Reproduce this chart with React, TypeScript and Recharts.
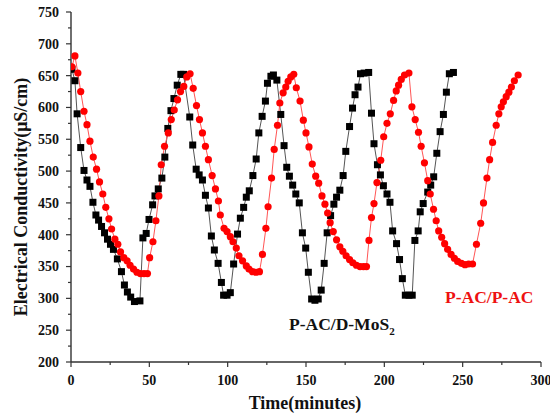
import React from 'react';
import { ComposedChart, Line, XAxis, YAxis } from 'recharts';

// P-AC/D-MoS2 (black squares)
const mosTime = [
  0.6, 2.5, 3.9, 6.2, 8.3, 10.2, 12.1, 14.0, 15.9, 17.6, 19.5, 21.4, 23.3, 25.2, 27.1, 29.6, 32.2, 34.1, 36.0, 38.1, 40.5, 44.0,
  45.9, 48.0, 49.8, 52.1, 53.6, 55.7, 58.0, 59.9, 61.8, 63.8, 65.7, 67.8, 70.1, 71.8,
  75.8, 77.7, 79.9, 81.8, 83.9, 85.8, 87.7, 89.6, 91.5, 93.9, 96.0, 97.4, 99.6, 101.7,
  103.8, 106.3, 108.1, 110.2, 111.9, 113.8, 116.1, 118.2, 119.9, 122.0, 124.1, 125.4, 127.6, 129.2,
  131.4, 133.9, 136.0, 137.7, 139.4, 141.5, 143.5, 145.7, 147.7, 149.8, 151.5, 153.6, 155.7, 157.8,
  159.7, 161.6, 163.5, 165.7, 167.8, 169.5, 171.6, 173.7, 175.4, 177.8, 179.7, 181.3, 183.2, 184.8, 187.1, 190.0,
  191.8, 193.4, 195.6, 197.5, 199.4, 201.7, 203.6, 205.3, 207.8, 209.7, 211.5, 213.4, 215.7, 217.8,
  219.5, 221.6, 222.9, 224.8, 227.7, 229.6, 231.5, 233.5, 235.6, 237.7, 239.6, 241.5, 244.1,
];
const mosValue = [
  660, 642, 590, 537, 501, 486, 476, 451, 431, 423, 413, 403, 393, 385, 377, 362, 342, 321, 310, 302, 295, 296,
  395, 402, 424, 447, 461, 472, 489, 522, 567, 595, 614, 635, 652, 652,
  585, 541, 503, 494, 486, 462, 442, 398, 376, 355, 325, 305, 305, 309,
  354, 401, 426, 443, 459, 469, 493, 519, 560, 586, 610, 638, 649, 651,
  643, 589, 540, 506, 492, 478, 464, 450, 403, 379, 341, 299, 297, 299,
  313, 355, 403, 430, 448, 459, 470, 493, 531, 570, 599, 620, 632, 653, 654, 655,
  591, 543, 510, 494, 477, 464, 451, 406, 386, 361, 331, 305, 305, 305,
  391, 406, 436, 449, 467, 478, 491, 528, 562, 589, 624, 653, 655,
];

// P-AC/P-AC (red circles)
const acTime = [
  0.6, 2.5, 4.4, 6.2, 8.3, 10.2, 12.1, 14.2, 16.3, 18.2, 20.3, 22.2, 24.2, 25.9, 28.0, 29.9, 31.6, 33.7, 35.8, 37.7, 39.9, 42.1,
  44.3, 46.6, 48.8, 50.2, 52.3, 54.2, 56.1, 57.6, 59.7, 62.1, 64.0, 65.9, 68.0, 69.9, 72.0, 73.9, 76.0,
  78.0, 80.1, 82.0, 83.9, 85.8, 87.7, 90.1, 92.2, 94.1, 95.3, 97.7, 99.6, 101.7, 103.4, 105.5, 107.2, 109.5,
  111.9, 113.6, 115.9, 118.0, 120.3, 122.2, 124.4, 125.8, 128.0, 129.7, 131.8, 133.3, 135.4, 137.1, 138.6, 140.3, 142.2,
  143.8, 146.2, 148.3, 150.0, 151.9, 154.0, 156.2, 158.1, 160.2, 162.1, 163.8, 165.4, 167.4, 169.5, 171.6, 173.5,
  175.6, 177.8, 179.9, 182.2, 184.5, 186.7, 188.6, 190.2, 191.8, 193.4, 195.3, 197.7, 199.6, 201.7, 203.8, 205.9,
  207.6, 209.1, 210.8, 212.9, 215.7, 217.6, 219.7, 221.8, 223.5, 225.6, 227.7, 229.3, 231.4, 233.1, 234.7, 236.6,
  238.5, 240.4, 242.6, 244.7, 246.8, 249.2, 251.5, 253.8, 256.3, 258.8, 261.5, 263.3, 265.5, 267.2, 269.1, 271.4,
  273.1, 274.6, 276.0, 277.8, 279.5, 281.1, 283.0, 285.4,
];
const acValue = [
  664, 681, 654, 625, 594, 573, 547, 522, 503, 483, 464, 443, 425, 409, 393, 385, 373, 364, 359, 352, 346, 341,
  339, 339, 339, 364, 389, 422, 461, 510, 539, 560, 581, 596, 612, 625, 633, 648, 653,
  630, 603, 581, 560, 539, 518, 493, 472, 453, 431, 410, 405, 397, 389, 379, 367, 359,
  351, 346, 342, 341, 342, 369, 410, 444, 489, 534, 572, 607, 623, 632, 641, 648, 652,
  631, 610, 580, 560, 538, 511, 492, 481, 461, 448, 434, 419, 405, 392, 381, 374,
  367, 361, 356, 352, 350, 350, 350, 391, 427, 449, 482, 517, 554, 575, 590, 611,
  626, 635, 644, 651, 654, 601, 581, 561, 539, 513, 485, 464, 440, 422, 406, 396,
  386, 377, 369, 363, 358, 355, 353, 354, 354, 385, 418, 450, 489, 518, 545, 572,
  590, 601, 609, 617, 624, 632, 642, 651,
];

const xMajorTicks = [0, 50, 100, 150, 200, 250, 300];
const xMinorTicks = [25, 75, 125, 175, 225, 275];
const yMajorTicks = [200, 250, 300, 350, 400, 450, 500, 550, 600, 650, 700, 750];
const yMinorTicks = [225, 275, 325, 375, 425, 475, 525, 575, 625, 675, 725];

const xAllTicks = [...xMajorTicks, ...xMinorTicks].sort((a, b) => a - b);
const yAllTicks = [...yMajorTicks, ...yMinorTicks].sort((a, b) => a - b);

const mosData = mosTime.map((t, i) => ({ t, v: mosValue[i] }));
const acData = acTime.map((t, i) => ({ t, v: acValue[i] }));

const FONT = '"Liberation Serif", "Times New Roman", serif';
const AXIS = '#333';
const TICK_SIZE = 5;
const X_MARGIN = 8;
const Y_MARGIN = 7;

const renderSquare = (p: any) => {
  if (p.cx == null || p.cy == null) return <g key={`s${p.index}`} />;
  return <rect key={`s${p.index}`} x={p.cx - 3.5} y={p.cy - 3.5} width={7} height={7} fill="#000" />;
};

const XTick = (props: any) => {
  const { x, y, payload } = props;
  const ay = y - TICK_SIZE - X_MARGIN;
  const major = xMajorTicks.includes(payload.value);
  return (
    <g>
      <line x1={x} x2={x} y1={ay} y2={ay + (major ? 5 : 3)} stroke={AXIS} strokeWidth={1.2} />
      {major && (
        <text x={x} y={y} dy="0.71em" textAnchor="middle" fontFamily={FONT} fontWeight="bold" fontSize={14} fill="#111">
          {payload.value}
        </text>
      )}
    </g>
  );
};

const YTick = (props: any) => {
  const { x, y, payload } = props;
  const ax = x + TICK_SIZE + Y_MARGIN;
  const major = yMajorTicks.includes(payload.value);
  return (
    <g>
      <line x1={ax} x2={ax - (major ? 5 : 3)} y1={y} y2={y} stroke={AXIS} strokeWidth={1.2} />
      {major && (
        <text x={x} y={y} dy="0.35em" textAnchor="end" fontFamily={FONT} fontWeight="bold" fontSize={14} fill="#111">
          {payload.value}
        </text>
      )}
    </g>
  );
};

export default function App() {
  return (
    <div style={{ position: 'absolute', left: 0, top: 0, width: 550, height: 419, background: '#fff' }}>
      <ComposedChart width={550} height={419} margin={{ top: 12, right: 9, bottom: 0, left: 0 }}>
        <XAxis xAxisId="main" type="number" dataKey="t" domain={[0, 300]} ticks={xAllTicks} height={57}
          interval={0} axisLine={{ stroke: AXIS, strokeWidth: 1.4 }} tickLine={false} tickSize={TICK_SIZE}
          tickMargin={X_MARGIN} tick={XTick} allowDataOverflow />
        <XAxis xAxisId="top" orientation="top" type="number" domain={[0, 300]} height={0}
          axisLine={{ stroke: AXIS, strokeWidth: 1.4 }} tickLine={false} tick={false} />
        <YAxis yAxisId="main" type="number" domain={[200, 750]} ticks={yAllTicks} width={71}
          interval={0} axisLine={{ stroke: AXIS, strokeWidth: 1.4 }} tickLine={false} tickSize={TICK_SIZE}
          tickMargin={Y_MARGIN} tick={YTick} allowDataOverflow />
        <YAxis yAxisId="right" orientation="right" type="number" domain={[200, 750]} width={0}
          axisLine={{ stroke: AXIS, strokeWidth: 1.4 }} tickLine={false} tick={false} />
        <Line data={mosData} xAxisId="main" yAxisId="main" dataKey="v" type="linear"
          stroke="#555" strokeWidth={1} dot={renderSquare} activeDot={false} isAnimationActive={false} />
        <Line data={acData} xAxisId="main" yAxisId="main" dataKey="v" type="linear"
          stroke="#f55" strokeWidth={1} dot={{ r: 3.6, fill: '#ff0000', stroke: '#ff0000', strokeWidth: 0 }}
          activeDot={false} isAnimationActive={false} />
      </ComposedChart>
      <svg width={550} height={419} style={{ position: 'absolute', left: 0, top: 0, pointerEvents: 'none' }}>
        <text x={26.5} y={197} transform="rotate(-90 26.5 197)" textAnchor="middle"
          fontFamily={FONT} fontWeight="bold" fontSize={18} fill="#111">Electrical Conductivity(μS/cm)</text>
        <text x={305} y={409} textAnchor="middle" fontFamily={FONT} fontWeight="bold" fontSize={18} fill="#111">Time(minutes)</text>
        <text x={289} y={330} fontFamily={FONT} fontWeight="bold" fontSize={17.5} fill="#111">
          P-AC/D-MoS<tspan dy={5} fontSize={11}>2</tspan>
        </text>
        <text x={445} y={303} fontFamily={FONT} fontWeight="bold" fontSize={17.5} fill="#ee1111">P-AC/P-AC</text>
      </svg>
    </div>
  );
}
